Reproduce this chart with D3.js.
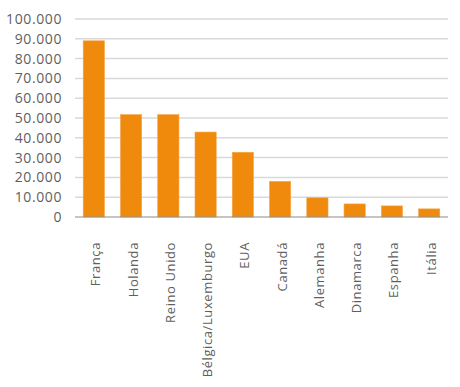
<!DOCTYPE html>
<html>
<head>
<meta charset="utf-8">
<script src="https://cdn.jsdelivr.net/npm/d3@7"></script>
<style>
  body { margin: 0; background: #fff; }
  svg text { font-family: "Open Sans", sans-serif; fill: #5f5f5f; }
</style>
</head>
<body>
<div id="chart"></div>
<script>
const countries = ["França", "Holanda", "Reino Unido", "Bélgica/Luxemburgo", "EUA",
  "Canadá", "Alemanha", "Dinamarca", "Espanha", "Itália"];
const values = [89000, 51700, 51700, 42900, 32700, 18000, 9700, 6600, 5600, 4100];
const yTicks = [0, 10000, 20000, 30000, 40000, 50000, 60000, 70000, 80000, 90000, 100000];

const width = 460, height = 387;
const margin = { top: 19, right: 12, bottom: 170, left: 75 };

const svg = d3.select("#chart")
  .append("svg")
  .attr("width", width)
  .attr("height", height);

const x = d3.scaleBand()
  .domain(countries)
  .range([margin.left, width - margin.right])
  .paddingInner(0.43)
  .paddingOuter(0.22);

const y = d3.scaleLinear()
  .domain([0, 100000])
  .range([height - margin.bottom, margin.top]);

const fmt = d3.formatLocale({ decimal: ",", thousands: ".", grouping: [3], currency: ["", ""] }).format(",d");

// gridlines
svg.append("g")
  .selectAll("line")
  .data(yTicks.slice(1))
  .join("line")
  .attr("x1", margin.left)
  .attr("x2", width - margin.right)
  .attr("y1", d => y(d))
  .attr("y2", d => y(d))
  .attr("stroke", "#d9d9d9")
  .attr("stroke-width", 1.5);

// y labels
svg.append("g")
  .selectAll("text")
  .data(yTicks)
  .join("text")
  .attr("x", 62)
  .attr("y", d => y(d))
  .attr("dy", "0.35em")
  .attr("text-anchor", "end")
  .attr("font-size", 14)
  .attr("letter-spacing", 0.6)
  .text(d => fmt(d));

// bars
svg.append("g")
  .selectAll("rect")
  .data(values)
  .join("rect")
  .attr("x", (d, i) => x(countries[i]))
  .attr("width", x.bandwidth())
  .attr("y", d => y(d))
  .attr("height", d => y(0) - y(d))
  .attr("fill", "#ef8a0c")
  .attr("stroke", "#f5a64a")
  .attr("stroke-width", 0.6);

// baseline
svg.append("line")
  .attr("x1", margin.left)
  .attr("x2", width - margin.right)
  .attr("y1", y(0))
  .attr("y2", y(0))
  .attr("stroke", "#8c8c8c")
  .attr("stroke-width", 1.2);

// x labels
svg.append("g")
  .selectAll("text")
  .data(countries)
  .join("text")
  .attr("transform", d => `translate(${x(d) + x.bandwidth() / 2 + 2}, 242) rotate(-90)`)
  .attr("dy", "0.35em")
  .attr("text-anchor", "end")
  .attr("font-size", 13)
  .attr("letter-spacing", 0.6)
  .text(d => d);
</script>
</body>
</html>
